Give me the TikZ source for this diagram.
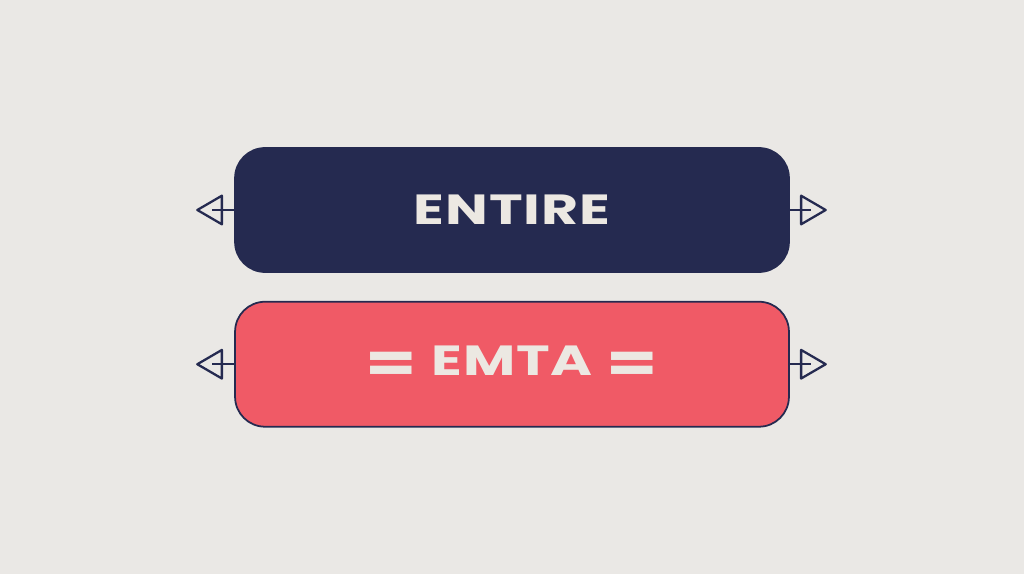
\documentclass[tikz,border=0pt]{standalone}
\usepackage{fontspec}
\newfontfamily\boxfont[FakeStretch=1.35, LetterSpace=2]{Poppins}
\usetikzlibrary{arrows.meta, positioning}
\definecolor{navy}{HTML}{252A50}
\definecolor{coral}{HTML}{F05A66}
\definecolor{paper}{HTML}{EAE8E5}
\definecolor{pale}{HTML}{ECE8E2}

\begin{document}
\begin{tikzpicture}[x=0.02cm, y=-0.02cm]
    \fill[paper] (0,0) rectangle (1024,574);%background
    \useasboundingbox (0,0) rectangle (1024,574);
    \node (entire) [rectangle, rounded corners=0.6cm, draw=navy, line width=1pt, fill=navy, text=pale, minimum width=11.08cm, minimum height=2.48cm, font=\boxfont\bfseries\fontsize{24}{28}\selectfont] at (512,210) {ENTIRE};%draws the top box
    \node (emta) [rectangle, rounded corners=0.6cm, draw=navy, line width=1pt, fill=coral, text=pale, minimum width=11.08cm, minimum height=2.5cm, font=\boxfont\bfseries\fontsize{24}{28}\selectfont, below=0.56cm of entire] {\raisebox{-3.5pt}{\scalebox{1.3}[1.3]{=}}\,\,EMTA\,\,\raisebox{-3.5pt}{\scalebox{1.3}[1.3]{=}}};%draws the bottom box
    \coordinate[left=0.44cm of entire.west] (el);%end of left line, top
    \coordinate[left=0.76cm of entire.west] (et);%left tip, top
    \coordinate[right=0.42cm of entire.east] (er);%end of right line, top
    \coordinate[right=0.74cm of entire.east] (eu);%right tip, top
    \coordinate[left=0.44cm of emta.west] (ml);%end of left line, bottom
    \coordinate[left=0.76cm of emta.west] (mt);%left tip, bottom
    \coordinate[right=0.42cm of emta.east] (mr);%end of right line, bottom
    \coordinate[right=0.74cm of emta.east] (mu);%right tip, bottom
    \draw[navy, line width=1.3pt] (entire.west) to (el);%left stub, top
    \draw[navy, line width=1.3pt, -{Triangle[open, length=0.56cm, width=0.64cm, round]}] (entire.west) to (et);%left arrow, top
    \draw[navy, line width=1.3pt] (entire.east) to (er);%right stub, top
    \draw[navy, line width=1.3pt, -{Triangle[open, length=0.56cm, width=0.64cm, round]}] (entire.east) to (eu);%right arrow, top
    \draw[navy, line width=1.3pt] (emta.west) to (ml);%left stub, bottom
    \draw[navy, line width=1.3pt, -{Triangle[open, length=0.56cm, width=0.64cm, round]}] (emta.west) to (mt);%left arrow, bottom
    \draw[navy, line width=1.3pt] (emta.east) to (mr);%right stub, bottom
    \draw[navy, line width=1.3pt, -{Triangle[open, length=0.56cm, width=0.64cm, round]}] (emta.east) to (mu);%right arrow, bottom
\end{tikzpicture}
\end{document}
